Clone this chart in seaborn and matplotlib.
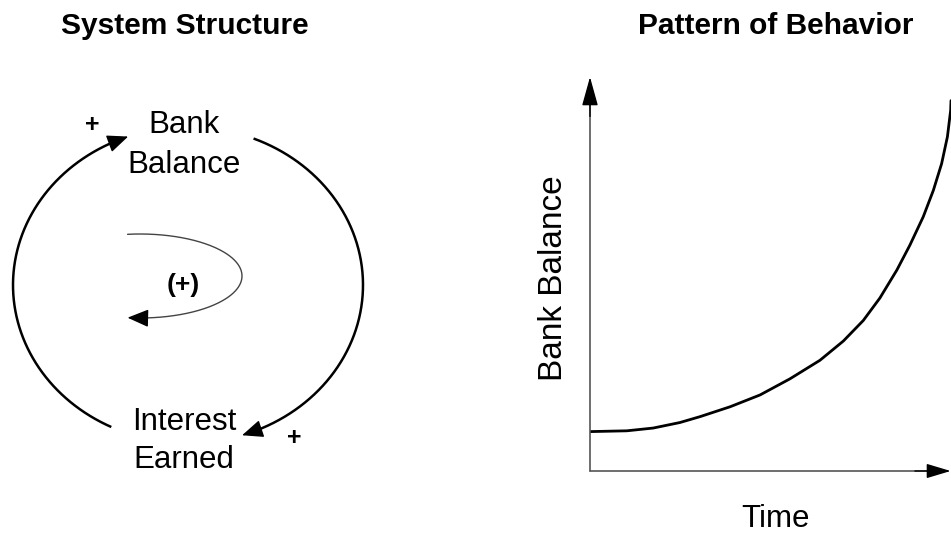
import numpy as np
import matplotlib
matplotlib.use("Agg")
import matplotlib.pyplot as plt
import seaborn as sns

sns.set_style("white")
plt.rcParams["font.family"] = ["Liberation Sans", "DejaVu Sans"]
plt.rcParams["text.color"] = "black"

# behaviour curve (both axes in 0-100 units)
time = [0, 10.2, 17.5, 24.9, 30.5, 38.8, 47.1, 55.4, 63.7, 70.2, 75.7,
        80.3, 85.0, 88.6, 92.3, 95.1, 97.4, 99.0, 99.9, 100]
balance = [10.0, 10.2, 10.9, 12.3, 13.8, 16.3, 19.3, 23.4, 28.1, 33.0, 38.2,
           43.9, 51.0, 57.3, 64.5, 71.2, 78.0, 84.8, 91.5, 94.0]

titles = ["System Structure", "Pattern of Behavior"]
node_top = ["Bank", "Balance"]
node_bottom = ["Interest", "Earned"]
link_sign = "+"
loop_sign = "(+)"
x_label = "Time"
y_label = "Bank Balance"

W, H = 951, 533


def head(ax, xs, ys, color="black", hl=1.3, hw=0.55):
    # filled arrowhead at the end of a drawn path
    ax.annotate("", xy=(xs[-1], ys[-1]), xytext=(xs[-8], ys[-8]),
                arrowprops=dict(arrowstyle=f"-|>,head_length={hl},head_width={hw}",
                                color=color, lw=1.0, shrinkA=0, shrinkB=0,
                                mutation_scale=10))


fig = plt.figure(figsize=(W / 100, H / 100), dpi=100)

# overlay in pixel coordinates for the loop diagram and the text
ax = fig.add_axes([0, 0, 1, 1])
ax.set_xlim(0, W)
ax.set_ylim(H, 0)
ax.axis("off")

ax.text(185, 34, titles[0], ha="center", va="baseline", fontsize=21.5, fontweight="bold")
ax.text(776, 34, titles[1], ha="center", va="baseline", fontsize=21.5, fontweight="bold")

ax.text(184, 133, node_top[0], ha="center", va="baseline", fontsize=22.5)
ax.text(184, 173, node_top[1], ha="center", va="baseline", fontsize=22.5)
ax.text(184, 430, node_bottom[0], ha="center", va="baseline", fontsize=22.5)
ax.text(184, 468, node_bottom[1], ha="center", va="baseline", fontsize=22.5)
ax.text(92, 125, link_sign, ha="center", va="center", fontsize=18, fontweight="bold")
ax.text(294, 438, link_sign, ha="center", va="center", fontsize=18, fontweight="bold")
ax.text(183, 285, loop_sign, ha="center", va="center", fontsize=19, fontweight="bold")

# outer loop: two arcs of one ellipse
cx, cy, rx, ry = 188, 285, 175, 158
for a0, a1 in [(244, 110), (68, -72)]:
    th = np.radians(np.linspace(a0, a1, 200))
    xs = cx + rx * np.cos(th)
    ys = cy - ry * np.sin(th)
    ax.plot(xs[:-6], ys[:-6], color="black", lw=1.8, solid_capstyle="butt")
    head(ax, xs, ys)

# inner loop marker
th = np.radians(np.linspace(97, -97, 200))
xs = 140 + 102 * np.cos(th)
ys = 276 - 42 * np.sin(th)
ax.plot(xs[:-6], ys[:-6], color="#444444", lw=1.0)
head(ax, xs, ys)

ax.text(553, 278, y_label, rotation=90, ha="center", va="center", fontsize=24)
ax.text(775, 527, x_label, ha="center", va="baseline", fontsize=22.5)

# behaviour graph
axr = fig.add_axes([590 / W, (H - 471) / H, 361 / W, 394 / H])
axr.patch.set_alpha(0)
sns.lineplot(x=time, y=balance, ax=axr, color="black", linewidth=2)
axr.set_xlim(0, 100)
axr.set_ylim(0, 100)
axr.axis("off")

axr.plot([0, 0], [0, 0.95], transform=axr.transAxes, color="#555555", lw=1.2, clip_on=False)
axr.plot([0, 0.96], [0, 0], transform=axr.transAxes, color="#555555", lw=1.2, clip_on=False)
axr.annotate("", xy=(0, 1), xytext=(0, 0.9), xycoords="axes fraction",
             arrowprops=dict(arrowstyle="-|>,head_length=1.8,head_width=0.5", color="black",
                             lw=1.0, shrinkA=0, shrinkB=0, mutation_scale=10))
axr.annotate("", xy=(0.999, 0), xytext=(0.9, 0), xycoords="axes fraction",
             arrowprops=dict(arrowstyle="-|>,head_length=1.5,head_width=0.45", color="black",
                             lw=1.0, shrinkA=0, shrinkB=0, mutation_scale=10))

fig.savefig("out.png", dpi=100)
